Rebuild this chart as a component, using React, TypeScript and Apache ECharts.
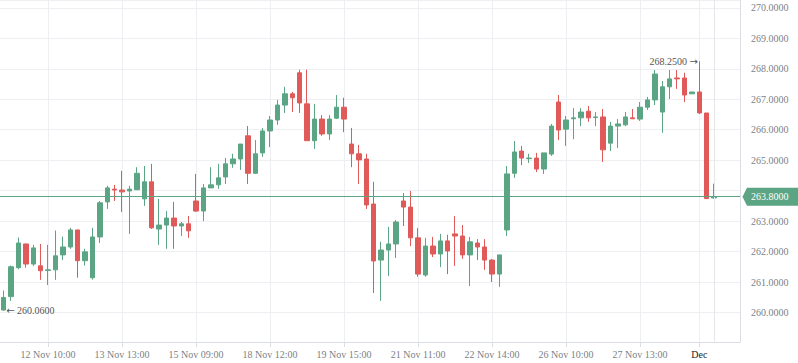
import React, { useEffect, useRef } from 'react';
import * as echarts from 'echarts';

const opens = [
  260.08, 260.52, 261.47, 262.25, 261.59, 261.53, 261.38, 261.40, 261.89, 262.15,
  262.71, 261.70, 261.14, 262.48, 263.63, 264.05, 264.02, 263.99, 264.03, 263.73,
  264.29, 262.74, 262.87, 263.10, 262.84, 262.91, 263.66, 263.33, 264.09, 264.19,
  264.45, 264.88, 265.04, 265.80, 264.57, 265.24, 265.96, 266.32, 266.81, 267.18,
  267.87, 266.85, 265.64, 266.35, 265.86, 266.38, 266.74, 265.53, 265.21, 265.04,
  263.56, 261.72, 262.05, 262.25, 263.66, 263.46, 262.45, 261.23, 262.18, 261.92,
  262.35, 262.58, 262.51, 261.89, 262.28, 262.15, 261.72, 261.26, 262.71, 264.57,
  265.30, 265.05, 265.07, 264.71, 265.20, 266.91, 266.02, 266.36, 266.39, 266.61,
  266.40, 266.42, 265.56, 266.12, 266.16, 266.39, 266.35, 266.74, 266.98, 266.58,
  267.41, 267.70, 267.70, 267.18, 267.24, 266.55, 263.76,
];
const closes = [
  260.49, 261.50, 262.28, 261.59, 262.12, 261.37, 261.40, 261.86, 262.15, 262.71,
  261.70, 261.99, 262.48, 263.60, 264.09, 264.02, 263.96, 264.05, 264.57, 264.29,
  262.78, 262.87, 263.10, 262.84, 262.91, 262.68, 263.33, 264.09, 264.19, 264.42,
  264.88, 265.04, 265.53, 264.57, 265.21, 265.96, 266.32, 266.81, 267.18, 267.05,
  266.88, 265.64, 266.35, 265.86, 266.35, 266.74, 266.35, 265.21, 265.01, 263.53,
  261.69, 262.05, 262.25, 262.97, 263.46, 262.45, 261.26, 262.18, 261.92, 262.35,
  262.02, 262.51, 261.89, 262.32, 262.15, 261.72, 261.26, 261.89, 264.55, 265.27,
  265.07, 265.07, 264.71, 265.24, 266.12, 265.99, 266.32, 266.39, 266.58, 266.39,
  266.42, 265.34, 266.12, 266.19, 266.42, 266.36, 266.74, 266.98, 267.83, 267.41,
  267.67, 267.67, 267.14, 267.24, 266.55, 263.74, 263.80,
];
const lows = [
  260.06, 260.38, 261.42, 261.47, 261.53, 261.07, 260.90, 261.07, 261.72, 262.09,
  261.14, 261.54, 261.08, 262.28, 263.40, 263.66, 263.30, 262.58, 264.02, 263.50,
  262.74, 262.22, 262.09, 262.09, 262.51, 262.45, 263.30, 263.00, 264.09, 264.06,
  264.22, 264.75, 264.68, 264.22, 264.55, 265.11, 265.43, 266.16, 266.55, 266.58,
  266.55, 265.64, 265.37, 265.80, 265.66, 266.35, 265.92, 264.77, 264.22, 263.40,
  260.64, 260.38, 261.20, 261.79, 262.84, 262.18, 261.17, 261.17, 261.82, 261.49,
  261.26, 261.53, 261.76, 260.87, 261.72, 261.40, 261.00, 260.84, 262.51, 264.42,
  264.84, 264.91, 264.61, 264.55, 265.14, 265.66, 265.47, 265.69, 266.12, 266.26,
  266.12, 264.94, 265.30, 265.40, 266.12, 266.35, 266.29, 266.65, 266.81, 265.90,
  267.01, 267.34, 266.91, 267.18, 266.52, 263.74, 263.74,
];
const highs = [
  260.72, 261.54, 262.46, 262.25, 262.22, 262.25, 262.22, 262.69, 262.49, 262.78,
  262.71, 262.09, 262.78, 263.66, 264.16, 264.19, 264.65, 264.16, 264.77, 264.81,
  264.88, 263.73, 263.33, 263.63, 262.97, 263.17, 264.55, 264.22, 264.77, 264.88,
  265.07, 265.21, 265.53, 266.12, 265.66, 266.06, 266.45, 266.98, 267.41, 267.24,
  267.97, 267.97, 266.85, 266.48, 266.48, 267.14, 267.05, 266.06, 265.50, 265.21,
  264.29, 262.32, 262.81, 263.04, 263.92, 263.99, 262.77, 262.45, 262.48, 262.58,
  262.55, 263.17, 262.87, 262.48, 262.41, 262.41, 261.76, 261.89, 264.81, 265.63,
  265.47, 265.21, 265.24, 265.24, 266.19, 267.14, 266.45, 266.71, 266.71, 266.78,
  266.58, 266.68, 266.26, 266.35, 266.58, 266.68, 266.91, 267.08, 267.96, 267.60,
  267.96, 267.96, 267.87, 267.24, 268.25, 266.55, 264.23,
];

const tickLabels: [number, string][] = [
  [6, '12 Nov 10:00'],
  [16, '13 Nov 13:00'],
  [26, '15 Nov 09:00'],
  [36, '18 Nov 12:00'],
  [46, '19 Nov 15:00'],
  [56, '21 Nov 11:00'],
  [66, '22 Nov 14:00'],
  [76, '26 Nov 10:00'],
  [86, '27 Nov 13:00'],
  [94, 'Dec'],
];
const monthLabels = ['Dec'];
const lastPrice = 263.8;
const yMin = 259.03;
const yMax = 270.26;
const emptySlots = 3;

const GREEN = '#5ba584';
const RED = '#e05a5a';
const GRID = '#edeff2';
const AXIS = '#dadde2';
const LABEL = '#7b7f86';
const FONT = "'Liberation Serif', 'Times New Roman', serif";
const ARROW_FONT = "'DejaVu Sans', sans-serif";

const tipImage =
  'data:image/svg+xml;utf8,' +
  encodeURIComponent(
    "<svg xmlns='http://www.w3.org/2000/svg' width='5' height='18' viewBox='0 0 5 18'>" +
      "<path d='M5 0 L5 18 L1 10 Q0 9 1 8 Z' fill='" + GREEN + "'/></svg>"
  );

export default function App() {
  const ref = useRef<HTMLDivElement>(null);
  useEffect(() => {
    if (!ref.current) return;
    const chart = echarts.init(ref.current, undefined, { renderer: 'svg' });
    const n = opens.length;
    const categories: string[] = [];
    for (let i = 0; i < n + emptySlots; i++) categories.push('c' + i);
    const labelMap = new Map<number, string>(tickLabels);
    const isTick = (index: number) => labelMap.has(index);
    const data = opens.map((o, i) => [o, closes[i], lows[i], highs[i]]);

    chart.setOption({
      animation: false,
      grid: { left: 0, right: 58, top: 0, bottom: 21, containLabel: false },
      xAxis: {
        type: 'category',
        data: categories,
        boundaryGap: true,
        axisLine: { show: true, lineStyle: { color: AXIS } },
        axisTick: {
          show: true,
          alignWithLabel: true,
          interval: isTick,
          length: 5,
          lineStyle: { color: AXIS },
        },
        axisLabel: {
          interval: isTick,
          formatter: (_v: string, index: number) => {
            const l = labelMap.get(index) || '';
            return monthLabels.includes(l) ? '{m|' + l + '}' : l;
          },
          color: LABEL,
          fontSize: 10,
          fontFamily: FONT,
          margin: 7,
          rich: { m: { color: '#222', fontSize: 10, fontFamily: FONT } },
        },
        splitLine: {
          show: true,
          interval: isTick,
          alignWithLabel: true,
          lineStyle: { color: GRID, width: 1 },
        },
      },
      yAxis: {
        type: 'value',
        position: 'right',
        min: yMin,
        max: yMax,
        splitNumber: 11,
        axisLine: { show: true, lineStyle: { color: AXIS } },
        axisTick: { show: false },
        axisLabel: {
          formatter: (v: number) =>
            Math.abs(v - lastPrice) < 0.45 ? '' : v.toFixed(4),
          showMinLabel: false,
          showMaxLabel: false,
          color: LABEL,
          fontSize: 10,
          fontFamily: FONT,
          margin: 11,
        },
        splitLine: { show: true, lineStyle: { color: GRID, width: 1 } },
      },
      series: [
        {
          type: 'candlestick',
          data,
          barWidth: 5,
          itemStyle: {
            color: GREEN,
            color0: RED,
            borderColor: GREEN,
            borderColor0: RED,
            borderWidth: 1,
          },
          markLine: {
            silent: true,
            symbol: ['none', 'none'],
            animation: false,
            data: [
              {
                xAxis: categories[n - 1],
                lineStyle: { color: '#e4e6ea', width: 1, type: 'solid' },
                label: { show: false },
              },
              {
                yAxis: lastPrice,
                lineStyle: { color: GREEN, width: 1, type: 'solid' },
                label: {
                  show: true,
                  position: 'end',
                  distance: 2,
                  formatter: '{t|}{v|' + lastPrice.toFixed(4) + '}',
                  rich: {
                    t: {
                      width: 5,
                      height: 18,
                      backgroundColor: { image: tipImage },
                    },
                    v: {
                      color: '#ffffff',
                      fontSize: 10,
                      fontFamily: FONT,
                      backgroundColor: GREEN,
                      padding: [4, 12, 4, 4],
                      lineHeight: 10,
                      borderRadius: [0, 2, 2, 0],
                    },
                  },
                },
              },
            ],
          },
          markPoint: {
            silent: true,
            symbol: 'circle',
            symbolSize: 1,
            itemStyle: { color: 'rgba(0,0,0,0)' },
            animation: false,
            data: [
              {
                type: 'min',
                valueDim: 'lowest',
                label: {
                  show: true,
                  position: 'right',
                  distance: 2,
                  color: '#555',
                  fontSize: 10,
                  fontFamily: FONT,
                  formatter: (p: any) => '{a|\u2190} ' + Number(p.value).toFixed(4),
                  rich: { a: { fontFamily: ARROW_FONT, fontSize: 10, color: '#555' } },
                },
              },
              {
                type: 'max',
                valueDim: 'highest',
                label: {
                  show: true,
                  position: 'left',
                  distance: 1,
                  color: '#555',
                  fontSize: 10,
                  fontFamily: FONT,
                  formatter: (p: any) => Number(p.value).toFixed(4) + ' {a|\u2192}',
                  rich: { a: { fontFamily: ARROW_FONT, fontSize: 10, color: '#555' } },
                },
              },
            ],
          },
        },
      ],
    });
    return () => chart.dispose();
  }, []);
  return (
    <div
      ref={ref}
      style={{ position: 'fixed', left: 0, top: 0, width: 798, height: 363, background: '#fff' }}
    />
  );
}
